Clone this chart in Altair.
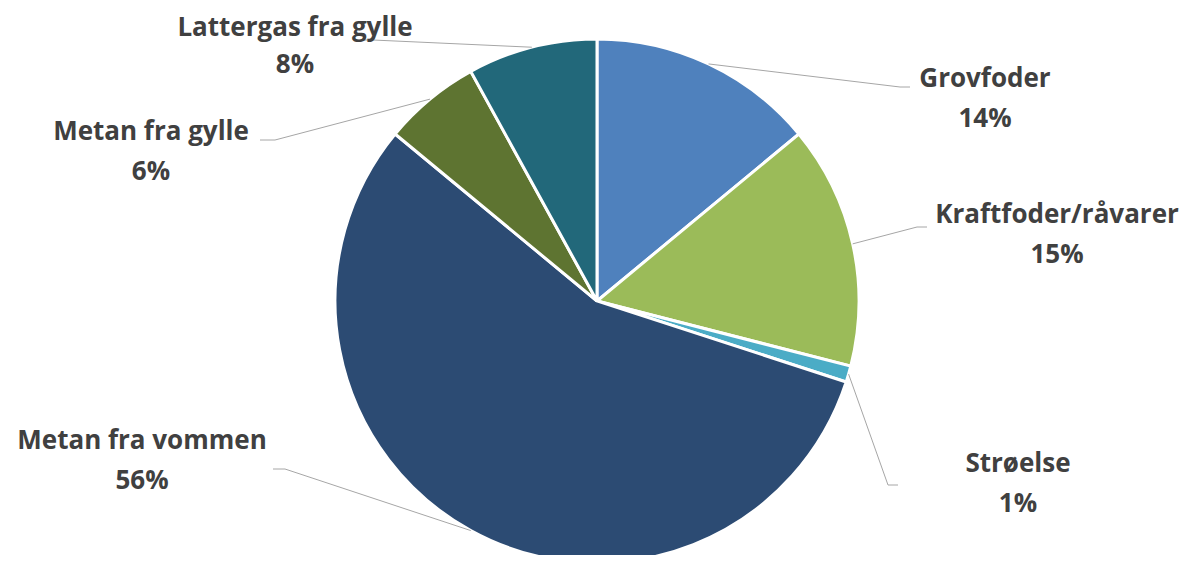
import math
import altair as alt
import pandas as pd

# ---- data ----
categories = ["Grovfoder", "Kraftfoder/råvarer", "Strøelse",
              "Metan fra vommen", "Metan fra gylle", "Lattergas fra gylle"]
shares = [14, 15, 1, 56, 6, 8]
colors = ["#4F81BD", "#9BBB59", "#4BACC6", "#2C4B73", "#5E7431", "#22687A"]

# ---- layout (pixels) ----
W, H = 1176, 547
CX, CY, R = 589, 293, 262
label_x = [977, 1049, 1010, 134, 143, 287]
name_y = [71, 207, 456, 433, 124, 20]
pct_y = [111, 247, 496, 473, 164, 57]
elbow_x = [892, 909, 880, 277, 267, 365]
elbow_y = [79, 219, 477, 461, 132, 32]
end_x = [902, 919, 890, 265, 252, 355]
end_y = [79, 219, 477, 461, 132, 32]

df = pd.DataFrame({"cat": categories, "val": shares, "ord": range(len(categories))})
df["pct"] = [f"{v}%" for v in shares]
df["lx"] = label_x
df["ly"] = name_y
df["ly2"] = pct_y

# leader lines: label end -> elbow -> mid-angle point on pie edge
total = sum(shares)
rows = []
cum = 0
for i, (c, v) in enumerate(zip(categories, shares)):
    mid = (cum + v / 2) / total * 2 * math.pi
    cum += v
    ax = CX + R * math.sin(mid)
    ay = CY - R * math.cos(mid)
    for k, (px, py) in enumerate([(end_x[i], end_y[i]), (elbow_x[i], elbow_y[i]), (ax, ay)]):
        rows.append({"cat": c, "k": k, "px": px, "py": py})
lines = pd.DataFrame(rows)

pie = alt.Chart(df).mark_arc(outerRadius=R, stroke="white", strokeWidth=3).encode(
    theta=alt.Theta("val:Q", stack=True),
    order=alt.Order("ord:Q"),
    color=alt.Color("cat:N", scale=alt.Scale(domain=categories, range=colors), legend=None),
    x=alt.value(CX),
    y=alt.value(CY),
)

leader = alt.Chart(lines).mark_line(color="#A6A6A6", strokeWidth=1).encode(
    x=alt.X("px:Q", scale=None),
    y=alt.Y("py:Q", scale=None),
    detail="cat:N",
    order="k:Q",
)

text_style = dict(font="Open Sans", fontWeight="bold", fontSize=26, color="#404040",
                  align="center", baseline="middle")

names = alt.Chart(df).mark_text(**text_style).encode(
    x=alt.X("lx:Q", scale=None),
    y=alt.Y("ly:Q", scale=None),
    text="cat:N",
)
pcts = alt.Chart(df).mark_text(**text_style).encode(
    x=alt.X("lx:Q", scale=None),
    y=alt.Y("ly2:Q", scale=None),
    text="pct:N",
)

chart = alt.layer(pie, leader, names, pcts).properties(
    width=W, height=H, padding=0, background="white",
    autosize=alt.AutoSizeParams(type="none"),
).configure_view(stroke=None)

chart.save("out.html", embed_options={"renderer": "svg", "actions": False})
